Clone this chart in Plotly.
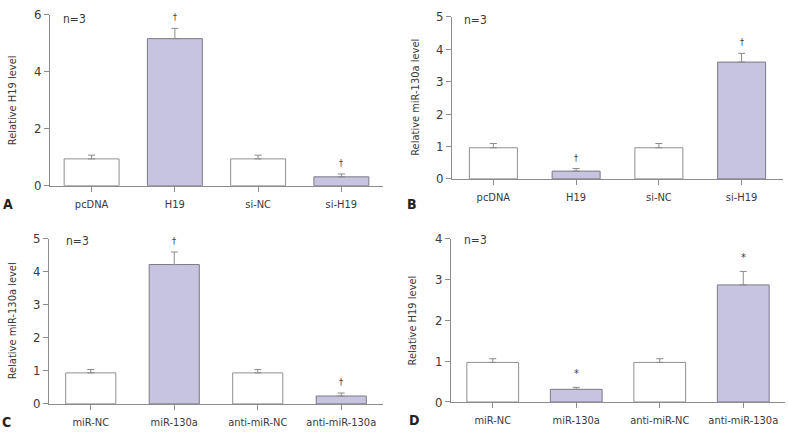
import plotly.graph_objects as go

# ---------------- data ----------------
cats_ab = ["pcDNA", "H19", "si-NC", "si-H19"]
cats_cd = ["miR-NC", "miR-130a", "anti-miR-NC", "anti-miR-130a"]

a_vals = [0.94, 5.16, 0.94, 0.31]
a_err = [0.13, 0.36, 0.13, 0.10]
a_sig = ["", "†", "", "†"]

b_vals = [0.96, 0.24, 0.96, 3.60]
b_err = [0.13, 0.08, 0.13, 0.27]
b_sig = ["", "†", "", "†"]

c_vals = [0.94, 4.22, 0.94, 0.24]
c_err = [0.10, 0.38, 0.10, 0.09]
c_sig = ["", "†", "", "†"]

d_vals = [0.97, 0.31, 0.97, 2.87]
d_err = [0.09, 0.05, 0.09, 0.33]
d_sig = ["", "*", "", "*"]

y_titles = ["Relative H19 level", "Relative miR-130a level",
            "Relative miR-130a level", "Relative H19 level"]
y_ranges = [6, 5, 5, 4]
y_dticks = [2, 1, 1, 1]
letters = ["A", "B", "C", "D"]

# ---------------- style ----------------
W, H = 788, 438
FONT = "Liberation Sans Narrow, Arial Narrow, DejaVu Sans Condensed, sans-serif"
TXT = "#3a3a3a"
AX = "#8c8c8c"
FILLS = ["#ffffff", "#c6c4de", "#ffffff", "#c6c4de"]
LINES = ["#8f8f8f", "#7a7a88", "#8f8f8f", "#7a7a88"]

def px_x(x):
    return x / W

def px_y(y):
    return 1 - y / H

# panel geometry in pixels: (left, right, top, bottom)
boxes = [(50, 383, 8, 185), (452, 783, 10, 178), (49, 383, 240, 411), (451, 785, 240, 409)]
bar_widths = [0.66, 0.58, 0.60, 0.62]
title_x = [12, 416, 12, 412]
letter_pos = [(8, 204), (412, 204), (6, 430), (414, 428)]
n_pos = [(74, 12), (475, 13), (77, 242), (475, 241)]

panels = [
    (cats_ab, a_vals, a_err, a_sig),
    (cats_ab, b_vals, b_err, b_sig),
    (cats_cd, c_vals, c_err, c_sig),
    (cats_cd, d_vals, d_err, d_sig),
]

fig = go.Figure()
annotations = []
layout_axes = {}

for i, (cats, vals, errs, sigs) in enumerate(panels):
    k = "" if i == 0 else str(i + 1)
    left, right, top, bottom = boxes[i]
    fig.add_trace(go.Bar(
        x=cats, y=vals,
        width=bar_widths[i],
        marker=dict(color=FILLS, line=dict(color=LINES, width=1)),
        error_y=dict(type="data", symmetric=False, array=errs,
                     arrayminus=[0] * len(errs), color="#8a8a8a",
                     thickness=1, width=3.5),
        xaxis="x" + k, yaxis="y" + k, showlegend=False, hoverinfo="skip",
    ))
    layout_axes["xaxis" + k] = dict(
        domain=[px_x(left), px_x(right)], anchor="y" + k,
        range=[-0.5, 3.5], showline=True, linecolor=AX, linewidth=1,
        ticks="outside", ticklen=5, tickcolor=AX, showgrid=False,
        ticklabelstandoff=3,
        tickfont=dict(family=FONT, size=11, color=TXT), zeroline=False,
        fixedrange=True,
    )
    layout_axes["yaxis" + k] = dict(
        domain=[px_y(bottom), px_y(top)], anchor="x" + k,
        range=[0, y_ranges[i]], dtick=y_dticks[i], showline=True,
        linecolor=AX, linewidth=1, ticks="outside", ticklen=5, tickcolor=AX,
        showgrid=False, zeroline=False,
        tickfont=dict(family=FONT, size=13, color=TXT), fixedrange=True,
    )
    # significance marks
    for c, v, e, s in zip(cats, vals, errs, sigs):
        if s:
            annotations.append(dict(
                x=c, y=v + e, xref="x" + k, yref="y" + k, text=s,
                showarrow=False, yanchor="bottom", yshift=5 if s == "*" else 4,
                font=dict(family=FONT, size=11 if s == "*" else 9, color=TXT),
            ))
    # y title
    annotations.append(dict(
        x=px_x(title_x[i]), y=px_y((top + bottom) / 2), xref="paper", yref="paper",
        text=y_titles[i], textangle=-90, showarrow=False,
        xanchor="center", yanchor="middle",
        font=dict(family=FONT, size=11, color=TXT),
    ))
    # n=3
    annotations.append(dict(
        x=px_x(n_pos[i][0]), y=px_y(n_pos[i][1]), xref="paper", yref="paper",
        text="n=3", showarrow=False, xanchor="center", yanchor="middle",
        font=dict(family=FONT, size=12, color=TXT),
    ))
    # panel letter
    annotations.append(dict(
        x=px_x(letter_pos[i][0]), y=px_y(letter_pos[i][1]), xref="paper", yref="paper",
        text="<b>" + letters[i] + "</b>", showarrow=False,
        xanchor="center", yanchor="middle",
        font=dict(family="DejaVu Sans Condensed, sans-serif", size=14, color="#222222"),
    ))

fig.update_layout(
    width=W, height=H, margin=dict(l=0, r=0, t=0, b=0),
    paper_bgcolor="white", plot_bgcolor="white",
    annotations=annotations, bargap=0.3,
    **layout_axes,
)

fig.write_html("out.html", config={"displayModeBar": False},
               post_script="document.body.style.margin='0';")
